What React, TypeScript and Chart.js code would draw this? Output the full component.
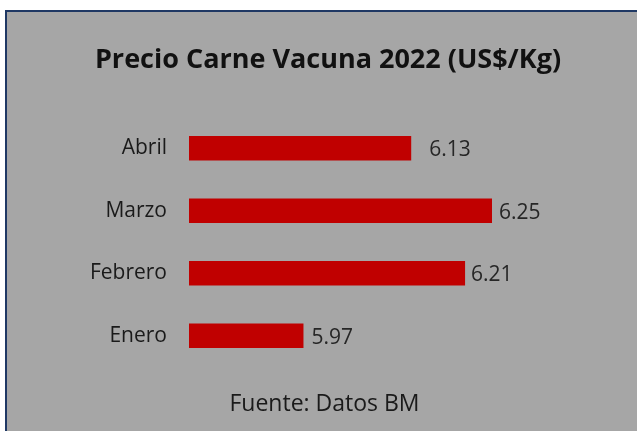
import React, { useEffect, useRef } from "react";
import { Chart, registerables } from "chart.js";

Chart.register(...registerables);

const categories = ["Abril", "Marzo", "Febrero", "Enero"];
const prices = [6.13, 6.25, 6.21, 5.97];
const valueLabels = ["6.13", "6.25", "6.21", "5.97"];
const titleText = "Precio Carne Vacuna 2022 (US$/Kg)";
const sourceText = "Fuente: Datos BM";
const axisMin = 5.8;
const axisMax = 6.4;

const FONT = "'Open Sans', sans-serif";

const textPlugin = {
  id: "chartTexts",
  afterDatasetsDraw(chart: any) {
    const ctx = chart.ctx;
    const meta = chart.getDatasetMeta(0);
    const offsets = [18, 7, 6, 8];
    ctx.save();
    ctx.font = `21px ${FONT}`;
    ctx.fillStyle = "#262626";
    ctx.textAlign = "left";
    ctx.textBaseline = "alphabetic";
    meta.data.forEach((bar: any, i: number) => {
      ctx.fillText(valueLabels[i], bar.x + offsets[i], bar.y + 8);
    });
    ctx.fillStyle = "#111111";
    ctx.textAlign = "center";
    ctx.font = `bold 27px ${FONT}`;
    ctx.fillText(titleText, 328, 68);
    ctx.fillStyle = "#1a1a1a";
    ctx.font = `23px ${FONT}`;
    ctx.fillText(sourceText, 324.5, 411);
    ctx.restore();
  },
};

export default function App() {
  const ref = useRef<HTMLCanvasElement>(null);
  useEffect(() => {
    if (!ref.current) return;
    const chart = new Chart(ref.current, {
      type: "bar",
      data: {
        labels: categories,
        datasets: [
          {
            data: prices,
            backgroundColor: "#c00000",
            borderWidth: 0,
            barPercentage: 0.78,
            categoryPercentage: 0.5,
          },
        ],
      },
      options: {
        indexAxis: "y",
        animation: false,
        responsive: true,
        maintainAspectRatio: false,
        layout: { padding: { left: 0, right: 44, top: 117, bottom: 64 } },
        plugins: {
          legend: { display: false },
          tooltip: { enabled: false },
          title: { display: false },
        },
        scales: {
          x: {
            display: false,
            min: axisMin,
            max: axisMax,
          },
          y: {
            grid: { display: false, drawTicks: false },
            border: { display: false },
            ticks: {
              color: "#1a1a1a",
              font: { family: FONT, size: 21 },
              padding: 22,
            },
            afterFit(scale: any) {
              scale.width = 189;
            },
          },
        },
      },
      plugins: [textPlugin],
    } as any);
    return () => chart.destroy();
  }, []);

  return (
    <div
      style={{
        position: "fixed",
        left: 0,
        top: 0,
        width: 637,
        height: 431,
        overflow: "hidden",
        background: "#ffffff",
      }}
    >
      <div
        style={{
          position: "absolute",
          left: 5,
          top: 10,
          width: 700,
          height: 500,
          border: "2px solid #1f3864",
          background: "#a6a6a6",
        }}
      />
      <div style={{ position: "absolute", left: 0, top: 0, width: 637, height: 431 }}>
        <canvas ref={ref} />
      </div>
    </div>
  );
}
